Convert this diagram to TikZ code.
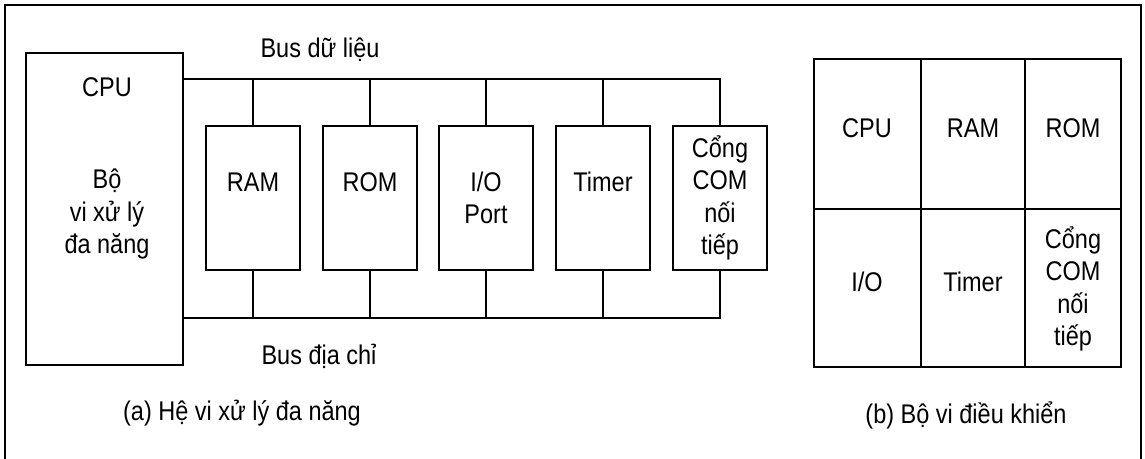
\documentclass[tikz,border=0pt]{standalone}
\usepackage{fontspec}
\setmainfont{Liberation Sans}[FakeStretch=0.87]
\begin{document}
\begin{tikzpicture}[x=1pt,y=-1pt, line width=2pt,
  every node/.style={font=\fontsize{27}{32.5}\selectfont, inner sep=0pt, align=center},
  blk/.style={draw, minimum width=94pt, minimum height=144pt},
  lbl/.style={draw=none}]
\useasboundingbox (0,0) rectangle (1145,458);
% outer frame
\draw (5,5) rectangle (1141,470);
% (a) general-purpose system
\node[draw, minimum width=157pt, minimum height=312pt] (cpu) at (104.5,209) {};
\node[lbl] (cputitle) at (107,87) {CPU};
\node[lbl] (cputext) at (107,214) {Bộ\\vi xử lý\\đa năng};
\node[blk] (ram) at (253,198) {};
\node[blk] (rom) at (370,198) {};
\node[blk] (io) at (486,198) {};
\node[blk] (tmr) at (603,198) {};
\node[blk] (com) at (720,198) {};
\node[lbl] (ramt) at (253,182) {RAM};
\node[lbl] (romt) at (370,182) {ROM};
\node[lbl] (iot) at (486,198) {I/O\\Port};
\node[lbl] (tmrt) at (603,182) {Timer};
\node[lbl] (comt) at (720,198) {Cổng\\COM\\nối\\tiếp};
\coordinate (dbus) at (0,79);
\coordinate (abus) at (0,318);
% data bus
\draw (cpu.east |- dbus) -- (com.north |- dbus) -- (com.north);
\foreach \n in {ram,rom,io,tmr} \draw (\n.north) -- (\n.north |- dbus);
% address bus
\draw (cpu.east |- abus) -- (com.south |- abus) -- (com.south);
\foreach \n in {ram,rom,io,tmr} \draw (\n.south) -- (\n.south |- abus);
\node[lbl] (dbusl) at (320,50) {Bus dữ liệu};
\node[lbl] (abusl) at (319,356) {Bus địa chỉ};
\node[lbl] (capa) at (242,413) {(a) Hệ vi xử lý đa năng};
% (b) microcontroller
\node[draw, minimum width=107pt, minimum height=150pt] (c11) at (867.5,134) {};
\node[draw, minimum width=104pt, minimum height=150pt] (c12) at (973,134) {};
\node[draw, minimum width=96pt, minimum height=150pt] (c13) at (1073,134) {};
\node[draw, minimum width=107pt, minimum height=158pt] (c21) at (867.5,288) {};
\node[draw, minimum width=104pt, minimum height=158pt] (c22) at (973,288) {};
\node[draw, minimum width=96pt, minimum height=158pt] (c23) at (1073,288) {};
\node[lbl] (t11) at (867,128) {CPU};
\node[lbl] (t12) at (973,128) {RAM};
\node[lbl] (t13) at (1073,128) {ROM};
\node[lbl] (t21) at (867,282) {I/O};
\node[lbl] (t22) at (973,282) {Timer};
\node[lbl] (t23) at (1073,289) {Cổng\\COM\\nối\\tiếp};
\node[lbl] (capb) at (966,415) {(b) Bộ vi điều khiển};
\end{tikzpicture}
\end{document}
